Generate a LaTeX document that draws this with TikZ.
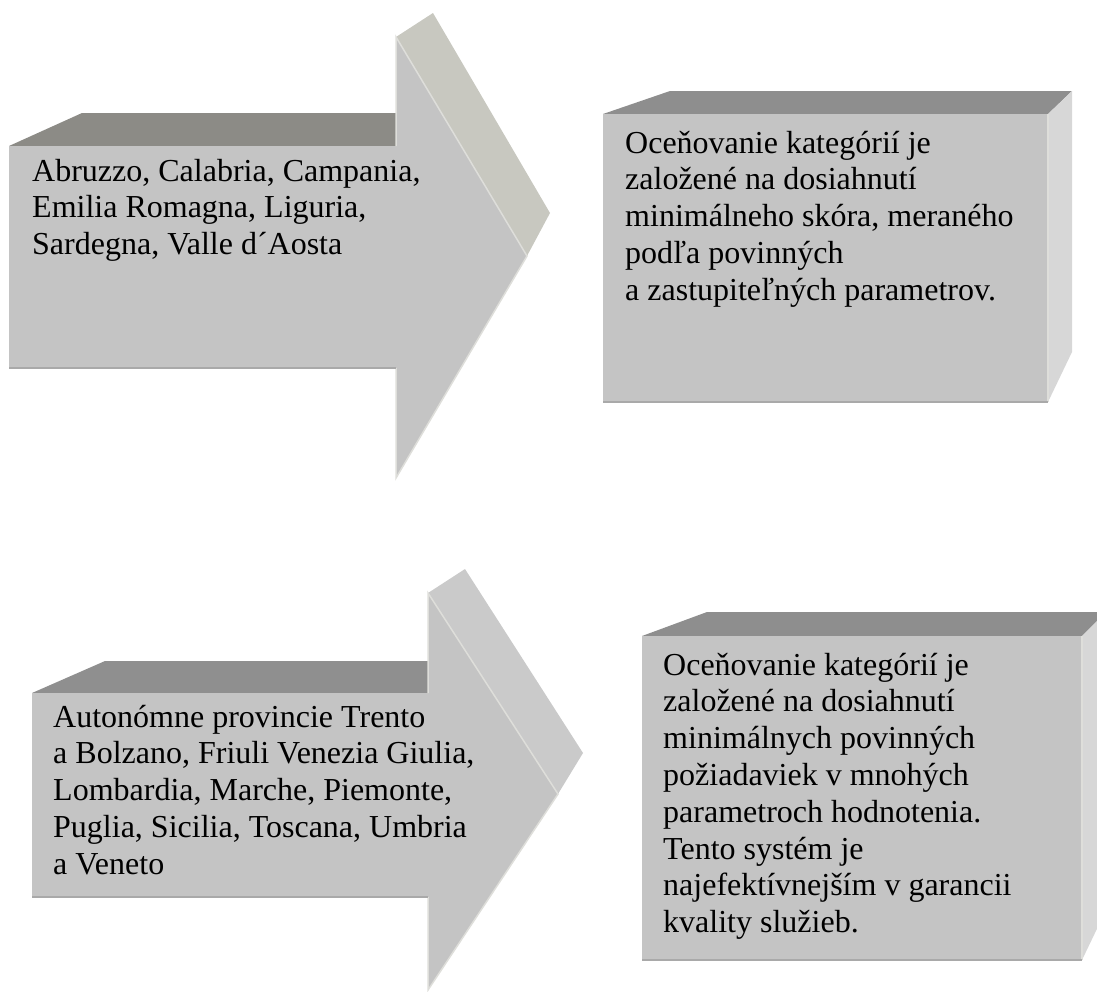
\documentclass[tikz,border=0pt]{standalone}
\usepackage{fontspec}
\setmainfont{Liberation Serif}
\definecolor{frontG}{HTML}{C4C4C4}
\definecolor{topGa}{HTML}{8C8B86}
\definecolor{sideGa}{HTML}{C8C8C0}
\definecolor{topGb}{HTML}{8F8F8F}
\definecolor{sideGb}{HTML}{CACACA}
\definecolor{topGc}{HTML}{8E8E8E}
\definecolor{sideGc}{HTML}{D7D7D7}
\definecolor{rimG}{HTML}{DEDEDA}
\definecolor{lowG}{HTML}{A9A9A9}
\begin{document}
\begin{tikzpicture}[x=1pt,y=-1pt,face/.style={fill=frontG},topA/.style={fill=topGa},sideA/.style={fill=sideGa},topB/.style={fill=topGb},sideB/.style={fill=sideGb},topC/.style={fill=topGc},sideC/.style={fill=sideGc},rim/.style={draw=rimG,line width=1.5pt},lowrim/.style={draw=lowG,line width=1.5pt},txt/.style={anchor=base west,inner sep=0pt,font=\fontsize{32}{36.8}\selectfont}]
\def\tw{520pt};
\useasboundingbox (0,0) rectangle (1097,991);
\clip (0,0) rectangle (1097,991);

%ARROW 1
\fill[topA] (9,146) -- (82,113) -- (396,113) -- (396,146) -- cycle;
\fill[sideA] (396,37) -- (433,13) -- (550,213) -- (527,256) -- cycle;
\fill[face] (9,146) -- (396,146) -- (396,37) -- (527,256) -- (396,478) -- (396,368) -- (9,368) -- cycle;
\draw[rim] (396,146) -- (396,37) -- (527,256) -- (396,478) -- (396,368);
\draw[lowrim] (9,368) -- (396,368);
\node[txt] (abr) at (32,181) {\parbox[t]{\tw}{Abruzzo, Calabria, Campania,\\Emilia Romagna, Liguria,\\Sardegna, Valle d´Aosta}};

%BOX 1
\fill[topC] (603,114) -- (670,91) -- (1072,91) -- (1048,114) -- cycle;
\fill[sideC] (1048,114) -- (1072,91) -- (1072,352) -- (1048,402) -- cycle;
\fill[face] (603,114) rectangle (1048,402);
\draw[rim] (1048,114) -- (1048,402);
\draw[lowrim] (603,402) -- (1048,402);
\node[txt] (oce1) at (625,153) {\parbox[t]{\tw}{Oceňovanie kategórií je\\založené na dosiahnutí\\minimálneho skóra, meraného\\podľa povinných\\a zastupiteľných parametrov.}};

%ARROW 2
\fill[topB] (32,693) -- (105,661) -- (428,661) -- (428,693) -- cycle;
\fill[sideB] (428,593) -- (465,569) -- (583,753) -- (558,794) -- cycle;
\fill[face] (32,693) -- (428,693) -- (428,593) -- (558,794) -- (428,990) -- (428,897) -- (32,897) -- cycle;
\draw[rim] (428,693) -- (428,593) -- (558,794) -- (428,990) -- (428,897);
\draw[lowrim] (32,897) -- (428,897);
\node[txt] (aut) at (53,727) {\parbox[t]{\tw}{Autonómne provincie Trento\\a Bolzano, Friuli Venezia Giulia,\\Lombardia, Marche, Piemonte,\\Puglia, Sicilia, Toscana, Umbria\\a Veneto}};

%BOX 2
\fill[topC] (642,636) -- (707,612) -- (1106,612) -- (1082,636) -- cycle;
\fill[sideC] (1082,636) -- (1106,612) -- (1106,910) -- (1082,960) -- cycle;
\fill[face] (642,636) rectangle (1082,960);
\draw[rim] (1082,636) -- (1082,960);
\draw[lowrim] (642,960) -- (1082,960);
\node[txt] (oce2) at (663,675) {\parbox[t]{\tw}{Oceňovanie kategórií je\\založené na dosiahnutí\\minimálnych povinných\\požiadaviek v mnohých\\parametroch hodnotenia.\\Tento systém je\\najefektívnejším v garancii\\kvality služieb.}};
\end{tikzpicture}
\end{document}
